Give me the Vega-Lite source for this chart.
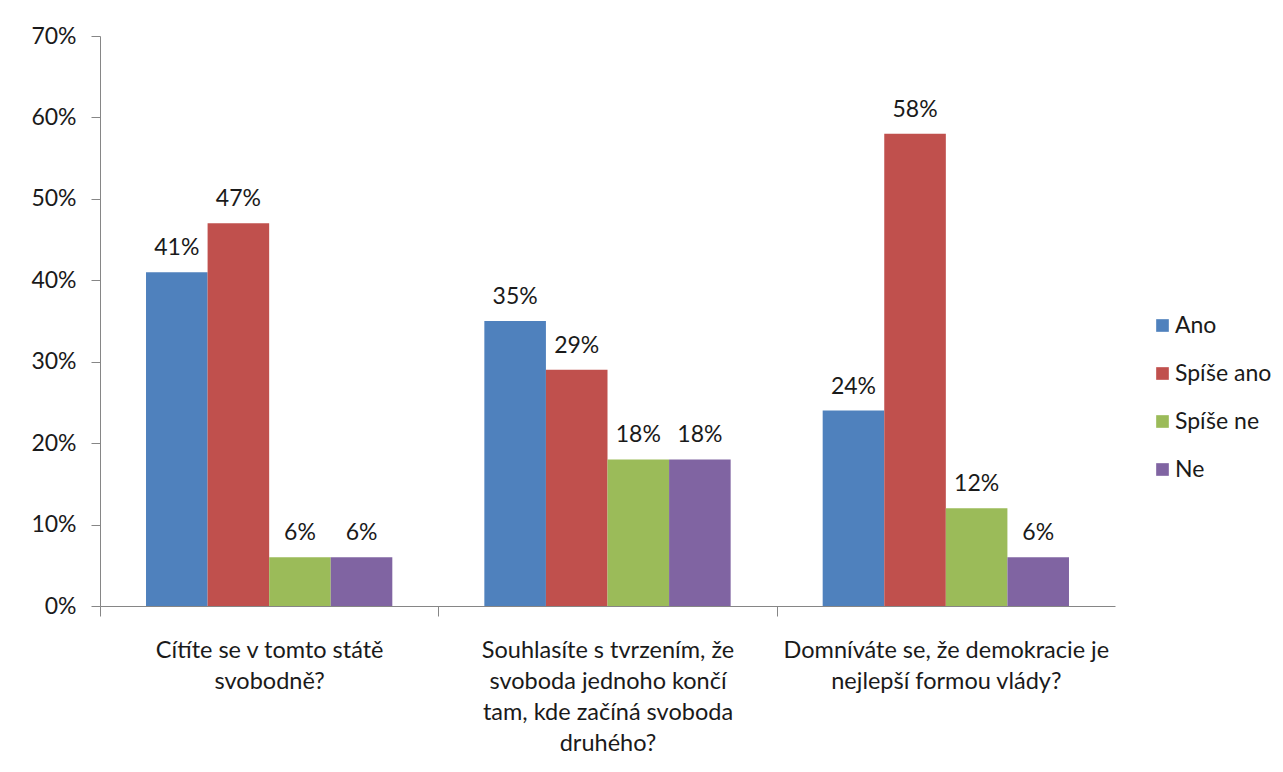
{
  "$schema": "https://vega.github.io/schema/vega-lite/v6.json",
  "width": 1015,
  "height": 570,
  "autosize": {"type": "none"},
  "padding": {"left": 100, "top": 36, "right": 168, "bottom": 166},
  "background": "white",
  "config": {"font": "Lato", "view": {"stroke": null}},
  "data": {
    "values": [
      {"q": "Cítíte se v tomto státě\nsvobodně?", "a": "Ano", "v": 0.41},
      {"q": "Cítíte se v tomto státě\nsvobodně?", "a": "Spíše ano", "v": 0.47},
      {"q": "Cítíte se v tomto státě\nsvobodně?", "a": "Spíše ne", "v": 0.06},
      {"q": "Cítíte se v tomto státě\nsvobodně?", "a": "Ne", "v": 0.06},
      {"q": "Souhlasíte s tvrzením, že\nsvoboda jednoho končí\ntam, kde začíná svoboda\ndruhého?", "a": "Ano", "v": 0.35},
      {"q": "Souhlasíte s tvrzením, že\nsvoboda jednoho končí\ntam, kde začíná svoboda\ndruhého?", "a": "Spíše ano", "v": 0.29},
      {"q": "Souhlasíte s tvrzením, že\nsvoboda jednoho končí\ntam, kde začíná svoboda\ndruhého?", "a": "Spíše ne", "v": 0.18},
      {"q": "Souhlasíte s tvrzením, že\nsvoboda jednoho končí\ntam, kde začíná svoboda\ndruhého?", "a": "Ne", "v": 0.18},
      {"q": "Domníváte se, že demokracie je\nnejlepší formou vlády?", "a": "Ano", "v": 0.24},
      {"q": "Domníváte se, že demokracie je\nnejlepší formou vlády?", "a": "Spíše ano", "v": 0.58},
      {"q": "Domníváte se, že demokracie je\nnejlepší formou vlády?", "a": "Spíše ne", "v": 0.12},
      {"q": "Domníváte se, že demokracie je\nnejlepší formou vlády?", "a": "Ne", "v": 0.06}
    ]
  },
  "encoding": {
    "x": {
      "field": "q",
      "type": "nominal",
      "sort": null,
      "scale": {"paddingInner": 0.272, "paddingOuter": 0.136},
      "axis": {
        "title": null,
        "labelAngle": 0,
        "labelExpr": "split(datum.label, '\\n')",
        "labelFontSize": 23.5,
        "labelColor": "#1a1a1a",
        "labelLineHeight": 31,
        "labelBaseline": "top",
        "labelPadding": 22,
        "labelLimit": 500,
        "domainColor": "#868686",
        "tickColor": "#868686",
        "tickSize": 10,
        "bandPosition": 0,
        "tickOffset": -46,
        "labelOffset": 46
      }
    },
    "xOffset": {
      "field": "a",
      "type": "nominal",
      "sort": ["Ano", "Spíše ano", "Spíše ne", "Ne"],
      "scale": {"paddingInner": 0, "paddingOuter": 0}
    },
    "y": {
      "field": "v",
      "type": "quantitative",
      "scale": {"domain": [0, 0.7]},
      "axis": {
        "title": null,
        "values": [0, 0.1, 0.2, 0.3, 0.4, 0.5, 0.6, 0.7],
        "format": ".0%",
        "grid": false,
        "labelFontSize": 23,
        "labelColor": "#1a1a1a",
        "labelPadding": 15,
        "domainColor": "#868686",
        "tickColor": "#868686",
        "tickSize": 9
      }
    }
  },
  "layer": [
    {
      "mark": {"type": "bar"},
      "encoding": {
        "color": {
          "field": "a",
          "type": "nominal",
          "sort": ["Ano", "Spíše ano", "Spíše ne", "Ne"],
          "scale": {
            "domain": ["Ano", "Spíše ano", "Spíše ne", "Ne"],
            "range": ["#4F81BD", "#C0504D", "#9BBB59", "#8064A2"]
          },
          "legend": {
            "title": null,
            "orient": "none",
            "legendX": 1051,
            "legendY": 278,
            "symbolType": "square",
            "symbolSize": 160,
            "symbolStrokeWidth": 0,
            "symbolOpacity": 1,
            "labelFontSize": 23,
            "labelColor": "#1a1a1a",
            "rowPadding": 24,
            "labelOffset": 1
          }
        }
      }
    },
    {
      "mark": {"type": "text", "dy": -24, "fontSize": 23, "color": "#1a1a1a"},
      "encoding": {"text": {"field": "v", "type": "quantitative", "format": ".0%"}}
    }
  ]
}
